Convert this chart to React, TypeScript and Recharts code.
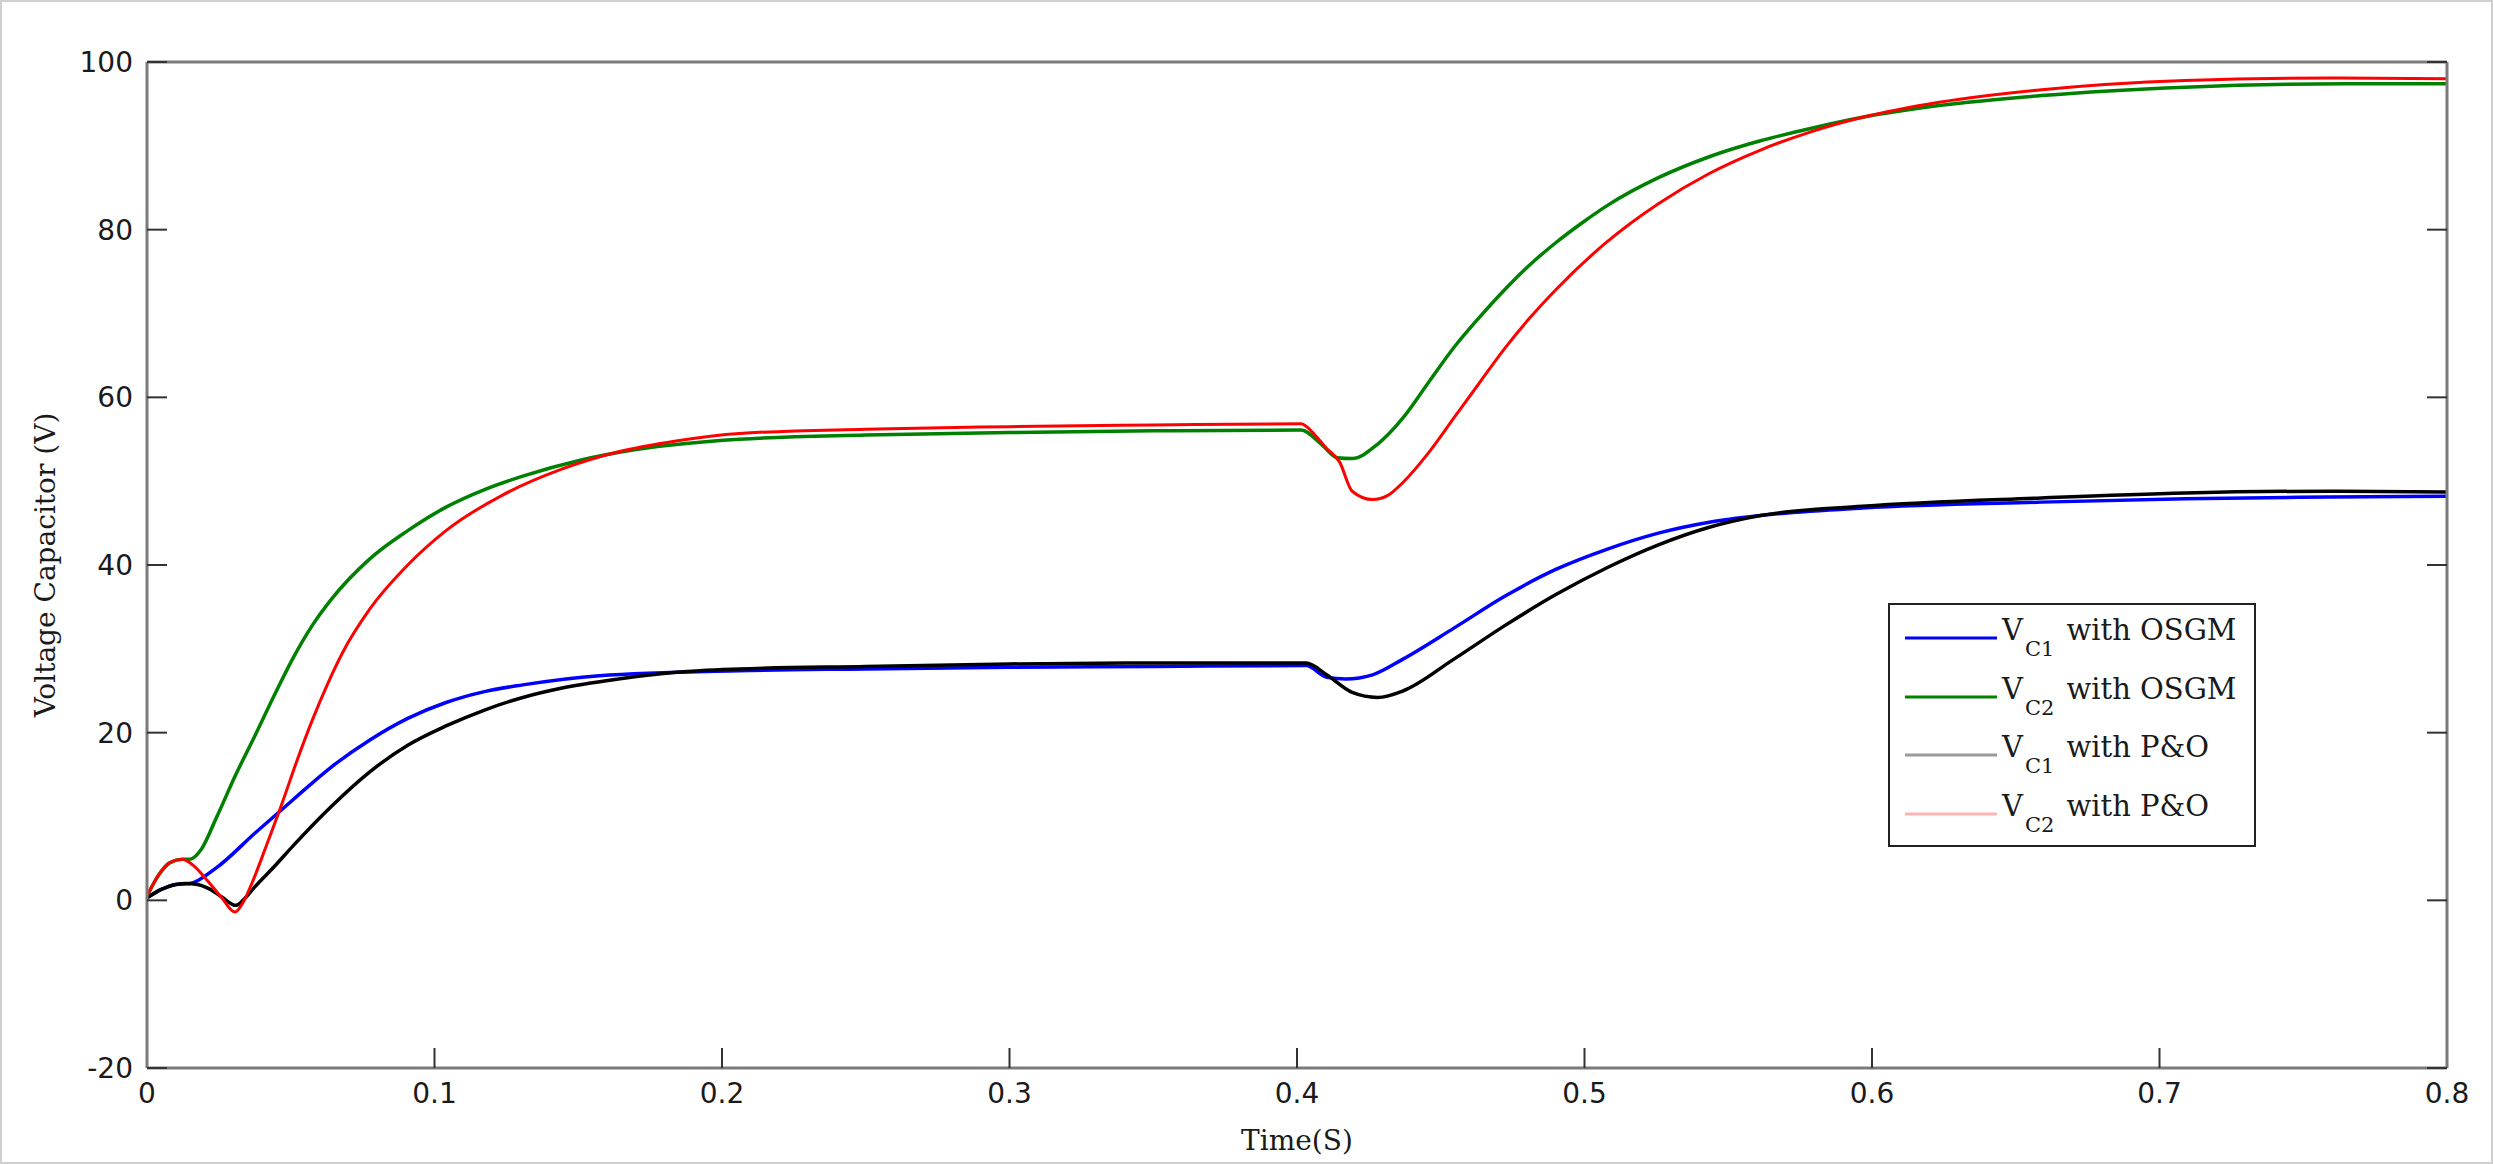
import React from "react";
import { LineChart, Line, XAxis, YAxis, Legend } from "recharts";

// time (s) / voltage (V) pairs
const vc1Osgm = [
  [0, 0.3], [0.005, 1.3], [0.01, 1.9], [0.0149, 2.0], [0.0242, 3.9], [0.0375, 8], [0.0508, 12],
  [0.0641, 15.9], [0.0774, 19.1], [0.0907, 21.7], [0.104, 23.6], [0.1174, 24.9], [0.1307, 25.7],
  [0.1573, 26.8], [0.206, 27.4], [0.25, 27.6], [0.3, 27.8], [0.35, 27.9], [0.4032, 28.0],
  [0.4103, 26.6], [0.417, 26.4], [0.4263, 26.9], [0.437, 28.8], [0.4547, 32.5], [0.4724, 36.3],
  [0.4902, 39.5], [0.508, 41.9], [0.5257, 43.8], [0.5434, 45.1], [0.5612, 45.9], [0.5967, 46.8],
  [0.659, 47.5], [0.709, 47.9], [0.759, 48.1], [0.8, 48.2],
];

const vc2Osgm = [
  [0, 0.5], [0.004, 3.0], [0.008, 4.5], [0.0122, 4.9], [0.0149, 4.9], [0.0189, 6.1], [0.0242, 9.9],
  [0.0309, 15], [0.0375, 19.6], [0.0442, 24.4], [0.0508, 28.9], [0.0575, 32.8], [0.0641, 35.9],
  [0.0774, 40.7], [0.0907, 44.1], [0.104, 46.9], [0.1174, 49], [0.1307, 50.6], [0.1507, 52.5],
  [0.1706, 53.8], [0.206, 55.0], [0.25, 55.5], [0.3, 55.8], [0.35, 56.0], [0.4014, 56.1],
  [0.4085, 54.4], [0.4139, 52.8], [0.4192, 52.7], [0.428, 54.4], [0.437, 57.6], [0.4458, 61.8],
  [0.4547, 66.0], [0.4636, 69.6], [0.4724, 72.9], [0.4813, 75.9], [0.4902, 78.5], [0.4991, 80.8],
  [0.508, 82.9], [0.5257, 86.2], [0.5434, 88.7], [0.5612, 90.6], [0.579, 92.1], [0.5967, 93.4],
  [0.6233, 94.8], [0.659, 96.0], [0.709, 97.0], [0.765, 97.4], [0.8, 97.4],
];

const vc1Po = [
  [0, 0.3], [0.005, 1.3], [0.01, 1.9], [0.0135, 2.0], [0.0175, 1.9], [0.0215, 1.4], [0.026, 0.4],
  [0.0309, -0.6], [0.0345, 0.4], [0.0375, 1.6], [0.0442, 4.0], [0.0508, 6.5], [0.0641, 11.2],
  [0.0774, 15.3], [0.0907, 18.5], [0.104, 20.8], [0.1174, 22.7], [0.1307, 24.2], [0.144, 25.3],
  [0.164, 26.4], [0.184, 27.2], [0.206, 27.6], [0.25, 27.9], [0.3, 28.2], [0.35, 28.3],
  [0.4032, 28.3], [0.4103, 26.9], [0.4192, 24.8], [0.428, 24.2], [0.437, 25.0], [0.4547, 28.8],
  [0.4724, 32.8], [0.4902, 36.5], [0.508, 39.7], [0.5257, 42.4], [0.5434, 44.5], [0.5612, 45.9],
  [0.5967, 47.0], [0.659, 48.0], [0.709, 48.6], [0.759, 48.8], [0.8, 48.7],
];

const vc2Po = [
  [0, 0.5], [0.004, 3.0], [0.008, 4.5], [0.0122, 4.9], [0.016, 4.2], [0.0209, 2.4], [0.026, 0.3],
  [0.0306, -1.4], [0.0335, -0.2], [0.0362, 1.8], [0.0415, 6.5], [0.0468, 11.4], [0.0521, 16.6],
  [0.0575, 21.5], [0.0628, 25.8], [0.0681, 29.6], [0.0774, 34.7], [0.0907, 40], [0.104, 44.1],
  [0.124, 48.4], [0.144, 51.4], [0.164, 53.5], [0.184, 54.8], [0.206, 55.7], [0.25, 56.2],
  [0.3, 56.5], [0.35, 56.7], [0.4014, 56.85], [0.406, 55.6], [0.4103, 53.9], [0.4148, 52.3],
  [0.4192, 48.8], [0.4263, 47.8], [0.4316, 48.3], [0.437, 49.9], [0.4458, 53.4], [0.4547, 57.6],
  [0.4636, 61.8], [0.4724, 65.9], [0.4813, 69.6], [0.4902, 72.9], [0.508, 78.6], [0.5257, 83.1],
  [0.5434, 86.7], [0.5612, 89.5], [0.579, 91.7], [0.5967, 93.4], [0.6233, 95.2], [0.659, 96.7],
  [0.709, 97.8], [0.759, 98.1], [0.8, 98.0],
];

const xTicks = [0, 0.1, 0.2, 0.3, 0.4, 0.5, 0.6, 0.7, 0.8];
const yTicks = [-20, 0, 20, 40, 60, 80, 100];

const legendItems = [
  { sub: "C1", text: "with OSGM", color: "#0000ff" },
  { sub: "C2", text: "with OSGM", color: "#008000" },
  { sub: "C1", text: "with P&O", color: "#9a9a9a" },
  { sub: "C2", text: "with P&O", color: "#ffb4b4" },
];

const toPoints = (rows: number[][]) => rows.map(([t, v]) => ({ t, v }));

const series = [
  { name: "VC1 with OSGM", data: toPoints(vc1Osgm), color: "#0000ff", width: 3.5 },
  { name: "VC2 with OSGM", data: toPoints(vc2Osgm), color: "#008000", width: 3.5 },
  { name: "VC1 with P&O", data: toPoints(vc1Po), color: "#000000", width: 3.5 },
  { name: "VC2 with P&O", data: toPoints(vc2Po), color: "#ff0000", width: 3 },
];

const serif = "'DejaVu Serif', serif";
const axisLine = { stroke: "#7a7a7a", strokeWidth: 3 };
const tickLine = { stroke: "#333", strokeWidth: 2 };
const tickStyle = { fill: "#1a1a1a", fontSize: 28, fontFamily: "'DejaVu Sans', sans-serif" };
const noLabel = () => <g />;

function LegendBox() {
  return (
    <div
      style={{
        position: "relative",
        width: 368,
        height: 244,
        border: "2.5px solid #222",
        boxSizing: "border-box",
        background: "#fff",
        fontFamily: serif,
        color: "#1a1a1a",
      }}
    >
      {legendItems.map((item, i) => (
        <div key={i} style={{ position: "absolute", left: 0, top: 6 + i * 58.5, width: "100%", height: 58 }}>
          <svg width={92} height={6} style={{ position: "absolute", left: 15, top: 24 }}>
            <line x1={0} x2={92} y1={3} y2={3} stroke={item.color} strokeWidth={3} />
          </svg>
          <span style={{ position: "absolute", left: 112, top: 5, fontSize: 29, lineHeight: "29px", whiteSpace: "nowrap" }}>
            V
            <span style={{ fontSize: 21, position: "relative", top: 16, marginLeft: 2 }}>{item.sub}</span>
            <span style={{ marginLeft: 12 }}>{item.text}</span>
          </span>
        </div>
      ))}
    </div>
  );
}

export default function App() {
  return (
    <div style={{ position: "absolute", left: 0, top: 0, width: 2493, height: 1164, background: "#fff" }}>
      <LineChart width={2493} height={1164} margin={{ top: 61, right: 45, bottom: 10, left: 0 }}>
        <XAxis
          dataKey="t"
          type="number"
          domain={[0, 0.8]}
          ticks={xTicks}
          interval={0}
          allowDataOverflow
          height={86}
          axisLine={axisLine}
          tickLine={tickLine}
          tickSize={-20}
          tickMargin={35}
          tick={tickStyle}
          label={{ value: "Time(S)", position: "insideBottom", offset: 4, style: { fontFamily: serif, fontSize: 28, fill: "#1a1a1a" } }}
        />
        <XAxis
          xAxisId="top"
          orientation="top"
          type="number"
          domain={[0, 0.8]}
          ticks={xTicks}
          interval={0}
          allowDataOverflow
          height={1}
          axisLine={axisLine}
          tickLine={tickLine}
          tickSize={-20}
          tick={noLabel}
        />
        <YAxis
          type="number"
          domain={[-20, 100]}
          ticks={yTicks}
          interval={0}
          allowDataOverflow
          width={147}
          axisLine={axisLine}
          tickLine={tickLine}
          tickSize={-20}
          tickMargin={34}
          tick={tickStyle}
          label={{
            value: "Voltage Capacitor (V)",
            angle: -90,
            position: "insideLeft",
            offset: 45,
            style: { textAnchor: "middle", fontFamily: serif, fontSize: 28, fill: "#1a1a1a" },
          }}
        />
        <YAxis
          yAxisId="right"
          orientation="right"
          type="number"
          domain={[-20, 100]}
          ticks={yTicks}
          interval={0}
          allowDataOverflow
          width={1}
          axisLine={axisLine}
          tickLine={tickLine}
          tickSize={-20}
          tick={noLabel}
        />
        <Legend
          layout="horizontal"
          verticalAlign="middle"
          align="center"
          wrapperStyle={{ left: 1888, top: 603, width: 368, height: 244 }}
          content={() => <LegendBox />}
        />
        {series.map((s) => (
          <Line
            key={s.name}
            data={s.data}
            dataKey="v"
            name={s.name}
            type="monotone"
            stroke={s.color}
            strokeWidth={s.width}
            dot={false}
            activeDot={false}
            isAnimationActive={false}
          />
        ))}
      </LineChart>
      <div
        style={{
          position: "absolute",
          inset: 0,
          border: "2px solid #cfcfcf",
          boxSizing: "border-box",
          pointerEvents: "none",
        }}
      />
    </div>
  );
}
